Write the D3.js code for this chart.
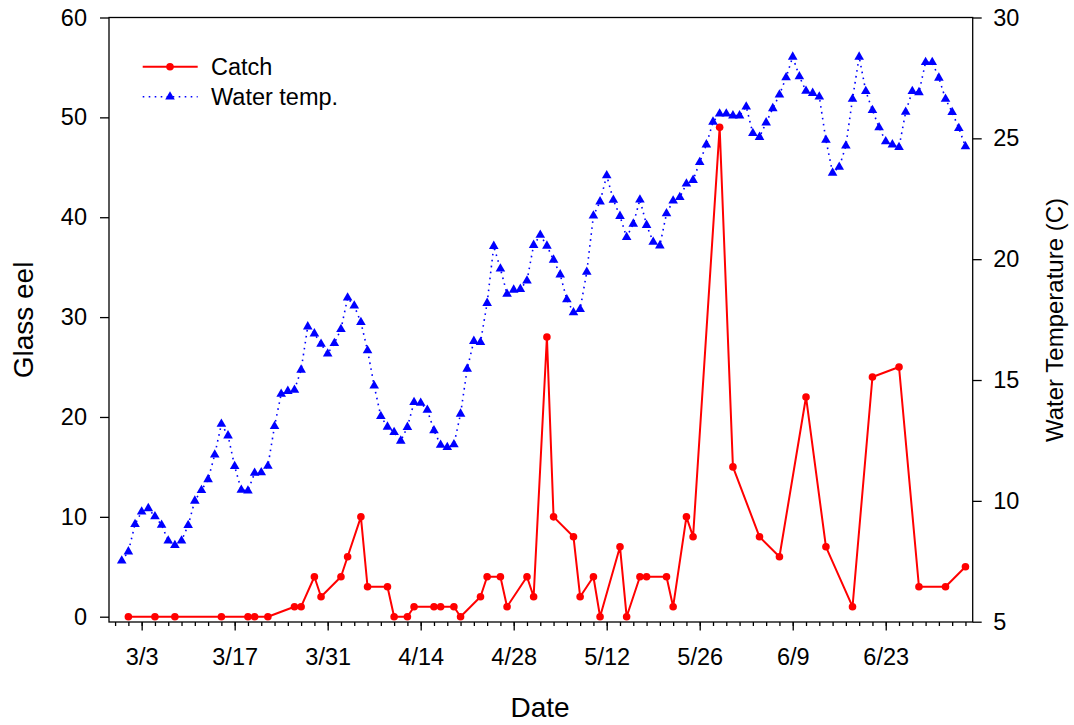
<!DOCTYPE html>
<html>
<head>
<meta charset="utf-8">
<script src="https://cdn.jsdelivr.net/npm/d3@7"></script>
<style>
  body { margin: 0; background: #fff; }
  svg { display: block; font-family: "Liberation Sans", Arial, sans-serif; }
</style>
</head>
<body>
<div id="chart"></div>
<script>
// catch of glass eels on sampling days
const catchDates = [
    "2007-03-01", "2007-03-05", "2007-03-08", "2007-03-15", "2007-03-19", "2007-03-20",
    "2007-03-22", "2007-03-26", "2007-03-27", "2007-03-29", "2007-03-30", "2007-04-02",
    "2007-04-03", "2007-04-05", "2007-04-06", "2007-04-09", "2007-04-10", "2007-04-12",
    "2007-04-13", "2007-04-16", "2007-04-17", "2007-04-19", "2007-04-20", "2007-04-23",
    "2007-04-24", "2007-04-26", "2007-04-27", "2007-04-30", "2007-05-01", "2007-05-03",
    "2007-05-04", "2007-05-07", "2007-05-08", "2007-05-10", "2007-05-11", "2007-05-14",
    "2007-05-15", "2007-05-17", "2007-05-18", "2007-05-21", "2007-05-22", "2007-05-24",
    "2007-05-25", "2007-05-29", "2007-05-31", "2007-06-04", "2007-06-07", "2007-06-11",
    "2007-06-14", "2007-06-18", "2007-06-21", "2007-06-25", "2007-06-28", "2007-07-02",
    "2007-07-05"
];
const catchValues = [
    0, 0, 0, 0, 0, 0,
    0, 1, 1, 4, 2, 4,
    6, 10, 3, 3, 0, 0,
    1, 1, 1, 1, 0, 2,
    4, 4, 1, 4, 2, 28,
    10, 8, 2, 4, 0, 7,
    0, 4, 4, 4, 1, 10,
    8, 49, 15, 8, 6, 22,
    7, 1, 24, 25, 3, 3,
    5
];

// daily water temperature, first reading on tempStart
const tempStart = "2007-02-28";
const tempValues = [
    7.52, 7.90, 9.03, 9.55, 9.69, 9.35, 9.00, 8.35, 8.16, 8.35,
    8.99, 10.00, 10.44, 10.89, 11.91, 13.18, 12.70, 11.43, 10.45, 10.42,
    11.15, 11.17, 11.44, 13.09, 14.42, 14.54, 14.59, 15.42, 17.21, 16.92,
    16.49, 16.09, 16.52, 17.10, 18.40, 18.07, 17.39, 16.22, 14.76, 13.50,
    13.06, 12.84, 12.48, 13.05, 14.08, 14.05, 13.76, 12.91, 12.31, 12.22,
    12.33, 13.60, 15.46, 16.61, 16.56, 18.18, 20.54, 19.60, 18.56, 18.73,
    18.76, 19.11, 20.58, 21.00, 20.55, 19.97, 19.36, 18.33, 17.79, 17.93,
    19.47, 21.80, 22.38, 23.46, 22.45, 21.78, 20.91, 21.46, 22.46, 21.41,
    20.71, 20.56, 21.89, 22.42, 22.56, 23.12, 23.27, 24.01, 24.74, 25.68,
    26.02, 26.02, 25.94, 25.94, 26.31, 25.21, 25.05, 25.65, 26.24, 26.80,
    27.52, 28.37, 27.56, 26.96, 26.87, 26.72, 24.93, 23.57, 23.81, 24.69,
    26.63, 28.37, 26.95, 26.16, 25.45, 24.87, 24.74, 24.63, 26.09, 26.95,
    26.90, 28.15, 28.15, 27.50, 26.63, 26.08, 25.42, 24.66
];

const leftTicks = [0, 10, 20, 30, 40, 50, 60];
const rightTicks = [5, 10, 15, 20, 25, 30];
const dateTicks = ["2007-03-03", "2007-03-17", "2007-03-31", "2007-04-14", "2007-04-28",
    "2007-05-12", "2007-05-26", "2007-06-09", "2007-06-23"];
const xDomain = ["2007-02-26T02:00", "2007-07-06T02:10"];

const width = 1074, height = 725;
const box = { left: 109, right: 972.7, top: 17.5, bottom: 622 };
const fontAxis = 23.5, fontTitle = 28;

const parseDay = d3.utcParse("%Y-%m-%d");
const parseTime = d3.utcParse("%Y-%m-%dT%H:%M");

const catchData = catchDates.map((d, i) => ({ date: parseDay(d), value: catchValues[i] }));
const t0 = parseDay(tempStart);
const tempData = tempValues.map((v, i) => ({ date: d3.utcDay.offset(t0, i), value: v }));

const x = d3.scaleUtc()
    .domain(xDomain.map(parseTime))
    .range([box.left, box.right]);
const yLeft = d3.scaleLinear().domain([0, 60]).range([616.7, box.top]);
const yRight = d3.scaleLinear().domain([5, 30]).range([621.7, box.top]);

const svg = d3.select("#chart").append("svg")
    .attr("width", width)
    .attr("height", height);

// frame
svg.append("rect")
    .attr("x", box.left).attr("y", box.top)
    .attr("width", box.right - box.left)
    .attr("height", box.bottom - box.top)
    .attr("fill", "none")
    .attr("stroke", "#000")
    .attr("stroke-width", 1.3);

function styleAxis(g) {
    g.select(".domain").remove();
    g.selectAll("line").attr("stroke", "#000").attr("stroke-width", 1.3);
    g.selectAll("text").attr("fill", "#000").style("font-size", fontAxis + "px")
        .style("font-family", "'Liberation Sans', Arial, sans-serif");
}

// left axis (catch)
svg.append("g")
    .attr("transform", `translate(${box.left},0)`)
    .call(d3.axisLeft(yLeft).tickValues(leftTicks).tickSize(9).tickPadding(13))
    .call(styleAxis);

// right axis (temperature)
svg.append("g")
    .attr("transform", `translate(${box.right},0)`)
    .call(d3.axisRight(yRight).tickValues(rightTicks).tickSize(9).tickPadding(11.5))
    .call(styleAxis);

// bottom axis: minor ticks every 2 days, labelled ticks every 14 days
const xEnd = x.domain()[1];
const minorTicks = d3.utcDay.range(parseDay("2007-02-27"), xEnd, 2);
svg.append("g")
    .attr("transform", `translate(0,${box.bottom})`)
    .call(d3.axisBottom(x).tickValues(minorTicks).tickSize(4).tickFormat(""))
    .call(styleAxis);

svg.append("g")
    .attr("transform", `translate(0,${box.bottom})`)
    .call(d3.axisBottom(x).tickValues(dateTicks.map(parseDay)).tickSize(8.5)
        .tickFormat(d => `${d.getUTCMonth() + 1}/${d.getUTCDate()}`))
    .call(styleAxis)
    .call(g => g.selectAll("text").attr("y", 43).attr("dy", 0));

// catch series
const catchLine = d3.line().x(d => x(d.date)).y(d => yLeft(d.value));
svg.append("path")
    .datum(catchData)
    .attr("d", catchLine)
    .attr("fill", "none")
    .attr("stroke", "#ff0000")
    .attr("stroke-width", 2)
    .attr("stroke-linejoin", "round");

svg.append("g").selectAll("circle")
    .data(catchData)
    .join("circle")
    .attr("cx", d => x(d.date))
    .attr("cy", d => yLeft(d.value))
    .attr("r", 3.8)
    .attr("fill", "#ff0000");

// temperature series
const tempLine = d3.line().x(d => x(d.date)).y(d => yRight(d.value));
svg.append("path")
    .datum(tempData)
    .attr("d", tempLine)
    .attr("fill", "none")
    .attr("stroke", "#0000ff")
    .attr("stroke-width", 1.6)
    .attr("stroke-dasharray", "1.6,4.4");

const triangle = d3.symbol().type(d3.symbolTriangle).size(40);
svg.append("g").selectAll("path")
    .data(tempData)
    .join("path")
    .attr("transform", d => `translate(${x(d.date)},${yRight(d.value)})`)
    .attr("d", triangle)
    .attr("fill", "#0000ff");

// axis titles
svg.append("text")
    .attr("transform", "translate(33,320) rotate(-90)")
    .attr("text-anchor", "middle")
    .style("font-size", fontTitle + "px")
    .text("Glass eel");

svg.append("text")
    .attr("x", 540).attr("y", 717)
    .attr("text-anchor", "middle")
    .style("font-size", fontTitle + "px")
    .text("Date");

svg.append("text")
    .attr("transform", "translate(1063,320) rotate(-90)")
    .attr("text-anchor", "middle")
    .style("font-size", "24px")
    .text("Water Temperature (C)");

// legend
const legend = svg.append("g");
legend.append("line")
    .attr("x1", 142.7).attr("x2", 197.7).attr("y1", 66.7).attr("y2", 66.7)
    .attr("stroke", "#ff0000").attr("stroke-width", 2);
legend.append("circle")
    .attr("cx", 170).attr("cy", 66.7).attr("r", 3.8).attr("fill", "#ff0000");
legend.append("text")
    .attr("x", 211).attr("y", 75)
    .style("font-size", fontAxis + "px")
    .text("Catch");

legend.append("line")
    .attr("x1", 142.7).attr("x2", 197.7).attr("y1", 96.7).attr("y2", 96.7)
    .attr("stroke", "#0000ff").attr("stroke-width", 1.6)
    .attr("stroke-dasharray", "1.6,4.4");
legend.append("path")
    .attr("transform", "translate(170,96.7)")
    .attr("d", triangle)
    .attr("fill", "#0000ff");
legend.append("text")
    .attr("x", 211).attr("y", 104.5)
    .style("font-size", fontAxis + "px")
    .text("Water temp.");
</script>
</body>
</html>
